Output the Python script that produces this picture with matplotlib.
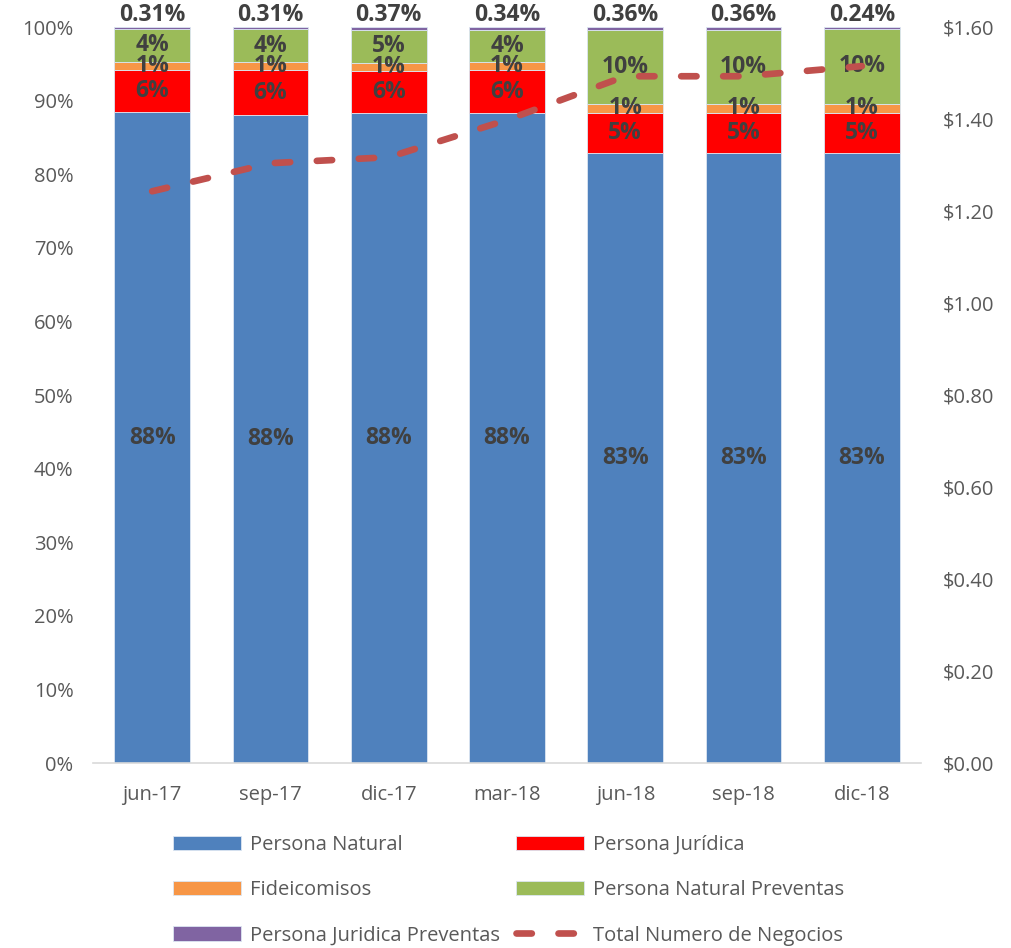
import numpy as np
import matplotlib
matplotlib.use("Agg")
import matplotlib.pyplot as plt
from matplotlib.ticker import FuncFormatter

plt.rcParams['font.family'] = ['Open Sans', 'DejaVu Sans']

periods = ['jun-17', 'sep-17', 'dic-17', 'mar-18', 'jun-18', 'sep-18', 'dic-18']
persona_natural = [88.4, 88.1, 88.3, 88.3, 82.9, 82.9, 82.9]
persona_juridica = [5.7, 6.0, 5.7, 5.8, 5.4, 5.4, 5.4]
fideicomisos = [1.2, 1.1, 1.1, 1.2, 1.3, 1.3, 1.3]
pn_preventas = [4.39, 4.49, 4.53, 4.36, 10.04, 10.04, 10.16]
pj_preventas = [0.31, 0.31, 0.37, 0.34, 0.36, 0.36, 0.24]
total_negocios = [1.243, 1.304, 1.317, 1.398, 1.493, 1.493, 1.515]

series = [
    ('Persona Natural', persona_natural, '#4f81bd'),
    ('Persona Jurídica', persona_juridica, '#ff0000'),
    ('Fideicomisos', fideicomisos, '#f79646'),
    ('Persona Natural Preventas', pn_preventas, '#9bbb59'),
    ('Persona Juridica Preventas', pj_preventas, '#8064a2'),
]

fig = plt.figure(figsize=(10.11, 9.48), dpi=100)
ax = fig.add_axes([0.092, 0.195, 0.819, 0.7765])
ax2 = ax.twinx()

x = np.arange(len(periods))
bottom = np.zeros(len(periods))
handles = []
lab_kw = dict(ha='center', fontsize=16.5, fontweight='bold', color='#404040')
for name, vals, col in series:
    vals = np.array(vals) / 100
    h = ax.bar(x, vals, 0.64, bottom=bottom, color=col, edgecolor='#dce6f2',
               linewidth=0.6, label=name, zorder=2)
    handles.append(h)
    for i, v in enumerate(vals):
        if name == 'Persona Juridica Preventas':
            ax.text(x[i], bottom[i] + v + 0.0005, f'{v*100:.2f}%', va='bottom',
                    **lab_kw)
        else:
            ax.text(x[i], bottom[i] + v / 2, f'{v*100:.0f}%', va='center',
                    **lab_kw)
    bottom += vals

line, = ax2.plot(x, total_negocios, color='#c0504d', lw=4.8,
                 dashes=(2.3, 4.0), dash_capstyle='round',
                 solid_capstyle='round', label='Total Numero de Negocios',
                 zorder=3)

ax.set_xlim(-0.5, len(periods) - 0.5)
ax.set_ylim(0, 1)
ax.set_yticks(np.arange(0, 1.01, 0.1))
ax.yaxis.set_major_formatter(FuncFormatter(lambda v, p: f'{v*100:.0f}%'))
ax2.set_ylim(0, 1.6)
ax2.set_yticks(np.arange(0, 1.61, 0.2))
ax2.yaxis.set_major_formatter(FuncFormatter(lambda v, p: f'${v:.2f}'))
ax.set_xticks(x)
ax.set_xticklabels(periods)

for a in (ax, ax2):
    for s in a.spines.values():
        s.set_visible(False)
    a.tick_params(length=0, labelsize=14.5, colors='#595959')
ax.spines['bottom'].set_visible(True)
ax.spines['bottom'].set_color('#d9d9d9')
ax.spines['bottom'].set_linewidth(1.2)
ax.tick_params(axis='x', pad=16)
ax.tick_params(axis='y', pad=14)
ax2.tick_params(axis='y', pad=16)

# row-major order like the original legend
order = [0, 2, 4, 1, 3]
leg_h = [handles[i] for i in order] + [line]
leg_l = [series[i][0] for i in order] + ['Total Numero de Negocios']
fig.legend(leg_h, leg_l,
           loc='upper left', bbox_to_anchor=(0.171, 0.119), ncol=2,
           frameon=False, fontsize=14.5, labelcolor='#595959',
           borderpad=0, borderaxespad=0,
           handlelength=3.4, handleheight=0.7, handletextpad=0.45,
           columnspacing=0.75, labelspacing=1.25)

fig.savefig('out.png', dpi=100)
